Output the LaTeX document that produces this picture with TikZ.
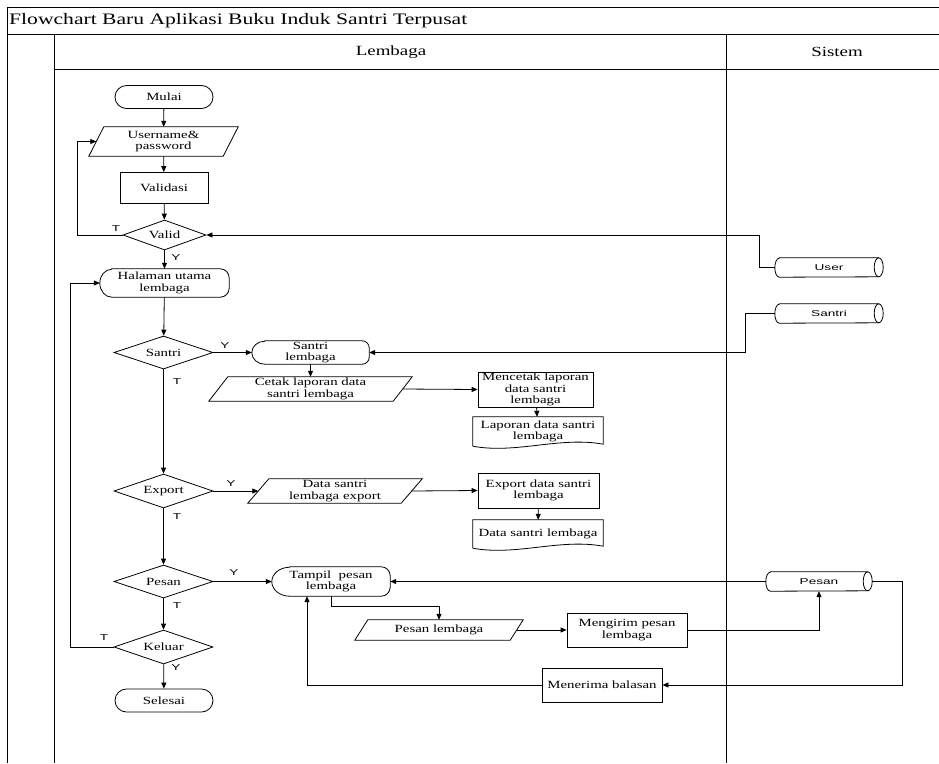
\documentclass[tikz,border=0pt]{standalone}
\usepackage{fontspec}
\setmainfont[FakeStretch=1.35]{Liberation Serif}
\newfontfamily\lblfont[FakeStretch=1.6]{Liberation Sans}
\usetikzlibrary{shapes.geometric,arrows.meta,calc}

\tikzset{
 nf/.style={font=\fontsize{11}{11.5}\selectfont, align=center, inner sep=0pt},
 term/.style={nf, draw, line width=0.8pt, rectangle, rounded corners=11.5pt, minimum width=98pt, minimum height=23pt},
 proc/.style={nf, draw, line width=0.8pt, rectangle},
 dec/.style={nf, draw, line width=0.8pt, diamond, aspect=3, minimum width=99pt, minimum height=33pt},
 plain/.style={nf, rectangle},
 lbl/.style={font=\lblfont\fontsize{8.5}{9}\selectfont, inner sep=0pt},
 arr/.style={-{Triangle[length=6pt,width=5pt]}, line width=0.8pt},
 ln/.style={line width=0.8pt},
 shp/.style={line width=0.8pt},
 frame/.style={line width=1pt}
}

\newcommand\drawIO[2]{\draw[shp] ($(#1.south west)+(-#2pt,0pt)$) -- ($(#1.north west)+(#2pt,0pt)$) -- ($(#1.north east)+(#2pt,0pt)$) -- ($(#1.south east)+(-#2pt,0pt)$) -- cycle;}
\newcommand\drawDisp[4]{\draw[shp] ($(#1.north west)+(#2pt,0pt)$) -- ($(#1.north east)+(-#4pt,0pt)$) arc[start angle=90,end angle=0,radius=#4pt] -- ($(#1.south east)+(0pt,#4pt)$) arc[start angle=0,end angle=-90,radius=#4pt] -- ($(#1.south west)+(#2pt,0pt)$) arc[start angle=270,end angle=90,x radius=#2pt,y radius=#3pt] -- cycle;}
\newcommand\drawDoc[2]{\draw[shp] (#1.south west) -- (#1.north west) -- (#1.north east) -- ($(#1.south east)+(0pt,2pt)$) .. controls ($(#1.south east)+(-#2pt/3,10pt)$) and ($(#1.south west)+(#2pt/3,-8pt)$) .. (#1.south west);}
\newcommand\drawDB[3]{\draw[shp] ($(#1.north west)+(#2pt,0pt)$) -- ($(#1.north east)+(-#2pt,0pt)$) arc[start angle=90,end angle=-90,x radius=#2pt,y radius=#3pt] -- ($(#1.south west)+(#2pt,0pt)$) arc[start angle=270,end angle=90,x radius=#2pt,y radius=#3pt] -- cycle;
 \draw[shp] ($(#1.north east)+(-#2pt,0pt)$) arc[start angle=90,end angle=270,x radius=#2pt,y radius=#3pt];}

\begin{document}
\begin{tikzpicture}[x=1pt,y=-1pt]
\useasboundingbox (0,0) rectangle (939,763);
% frame
\draw[frame] (939,7) -- (7,7) -- (7,763);
\draw[frame] (7,34) -- (939,34);
\draw[frame] (54,34) -- (54,763);
\draw[frame] (54,69) -- (939,69);
\draw[frame] (726,34) -- (726,763);
\node[anchor=west, inner sep=0pt, font=\fontsize{16}{18}\selectfont] (title) at (9,21) {Flowchart Baru Aplikasi Buku Induk Santri Terpusat};
\node[inner sep=0pt, font=\fontsize{14}{16}\selectfont] (hlem) at (391,52) {Lembaga};
\node[inner sep=0pt, font=\fontsize{14}{16}\selectfont] (hsis) at (837,52) {Sistem};

% nodes
\node[term] (mulai) at (164,97) {Mulai};
\node[plain, minimum width=134pt, minimum height=29pt] (uname) at (163.5,141.5) {Username\&\\password};
\drawIO{uname}{7.5}
\node[proc, minimum width=88pt, minimum height=31pt] (vals) at (164,188) {Validasi};
\node[dec, minimum width=83pt, minimum height=30pt] (valid) at (164.5,235) {Valid};
\node[plain, minimum width=129pt, minimum height=28pt] (hal) at (164.5,283) {Halaman utama\\lembaga};
\drawDisp{hal}{12}{14}{9}
\node[dec] (dsan) at (163.5,352.5) {Santri};
\node[plain, minimum width=117pt, minimum height=23pt] (slem) at (310.5,352.5) {Santri\\lembaga};
\drawDisp{slem}{13}{11.5}{7}
\node[plain, minimum width=184pt, minimum height=24pt] (cetak) at (310.5,389) {Cetak laporan data\\santri lembaga};
\drawIO{cetak}{9.5}
\node[proc, minimum width=115pt, minimum height=35pt] (mcetak) at (535.5,389.5) {Mencetak laporan\\data santri\\lembaga};
\node[plain, minimum width=130pt, minimum height=29pt] (lapdoc) at (538,431.5) {Laporan data santri\\lembaga};
\drawDoc{lapdoc}{130}
\node[dec, minimum height=34pt] (dexp) at (163.5,491) {Export};
\node[plain, minimum width=153pt, minimum height=24pt] (dsle) at (335,491) {Data santri\\lembaga export};
\drawIO{dsle}{10.5}
\node[proc, minimum width=121pt, minimum height=35pt] (expr) at (538.5,490.5) {Export data santri\\lembaga};
\node[plain, minimum width=130pt, minimum height=28pt] (dsldoc) at (538,534) {Data santri lembaga};
\drawDoc{dsldoc}{130}
\node[dec] (dpes) at (163.5,581.5) {Pesan};
\node[dec, minimum height=34pt] (dkel) at (163.5,647) {Keluar};
\node[term] (selesai) at (164,700.5) {Selesai};
\node[plain, minimum width=118pt, minimum height=29pt] (tampil) at (331,581.5) {Tampil~ pesan\\lembaga};
\drawDisp{tampil}{18}{14.5}{9}
\node[plain, minimum width=155pt, minimum height=20pt] (plem) at (439,630) {Pesan lembaga};
\drawIO{plem}{6.5}
\node[proc, minimum width=120pt, minimum height=34pt] (kirim) at (627,630) {Mengirim pesan\\lembaga};
\node[proc, minimum width=120pt, minimum height=34pt] (terima) at (602,685) {Menerima balasan};
\node[plain, lbl, minimum width=106pt, minimum height=19pt] (dbpes) at (819,581.5) {Pesan};
\drawDB{dbpes}{4.5}{9.5}
\node[plain, lbl, minimum width=108pt, minimum height=19pt] (dbuser) at (829,267.5) {User};
\drawDB{dbuser}{4.5}{9.5}
\node[plain, lbl, minimum width=108pt, minimum height=19pt] (dbsan) at (829,313.5) {Santri};
\drawDB{dbsan}{4.5}{9.5}

% labels
\node[lbl] (t1) at (116,229) {T};
\node[lbl] (y1) at (176,258) {Y};
\node[lbl] (y2) at (225,346) {Y};
\node[lbl] (t2) at (177,382) {T};
\node[lbl] (y3) at (231,484) {Y};
\node[lbl] (t3) at (177,517) {T};
\node[lbl] (y4) at (234,573) {Y};
\node[lbl] (t4) at (177,606) {T};
\node[lbl] (t5) at (104,638) {T};
\node[lbl] (y5) at (176,668) {Y};

% coordinates
\coordinate (c1) at (77,235);
\coordinate (c2) at (759,235);
\coordinate (c3) at (70,647);
\coordinate (c4) at (745,352.5);
\coordinate (c5) at (331,606);
\coordinate (c6) at (902,581.5);

% connectors
\draw[arr] (mulai) -- (uname);
\draw[arr] (uname) -- (vals);
\draw[arr] (vals) -- (valid);
\draw[arr] (valid.west) -- (c1) |- (uname.west);
\draw[arr] (valid) -- (hal);
\draw[arr] (dbuser.west) -| (c2) -- (valid.east);
\draw[arr] (dkel.west) -- (c3) |- (hal.west);
\draw[arr] (hal) -- (dsan);
\draw[arr] (dsan.east) -- (slem.west);
\draw[arr] (dsan) -- (dexp);
\draw[arr] (dbsan.west) -| (c4) -- (slem.east);
\draw[arr] (slem) -- (cetak);
\draw[arr] (cetak.east) -- (mcetak.west);
\draw[arr] (mcetak) -- (lapdoc);
\draw[arr] (dexp.east) -- (dsle.west);
\draw[arr] (dsle.east) -- (expr.west);
\draw[arr] (expr) -- (dsldoc);
\draw[arr] (dexp) -- (dpes);
\draw[arr] (dpes.east) -- (tampil.west);
\draw[arr] (dpes) -- (dkel);
\draw[arr] (dkel) -- (selesai);
\draw[arr] (tampil.south) -- (c5) -| (plem.north);
\draw[arr] (plem.east) -- (kirim.west);
\draw[arr] (kirim.east) -| (dbpes.south);
\draw[arr] (dbpes.east) -- (c6) |- (terima.east);
\draw[arr] (terima.west) -| ([xshift=-24pt]tampil.south);
\draw[arr] (dbpes.west) -- (tampil.east);
\end{tikzpicture}
\end{document}
